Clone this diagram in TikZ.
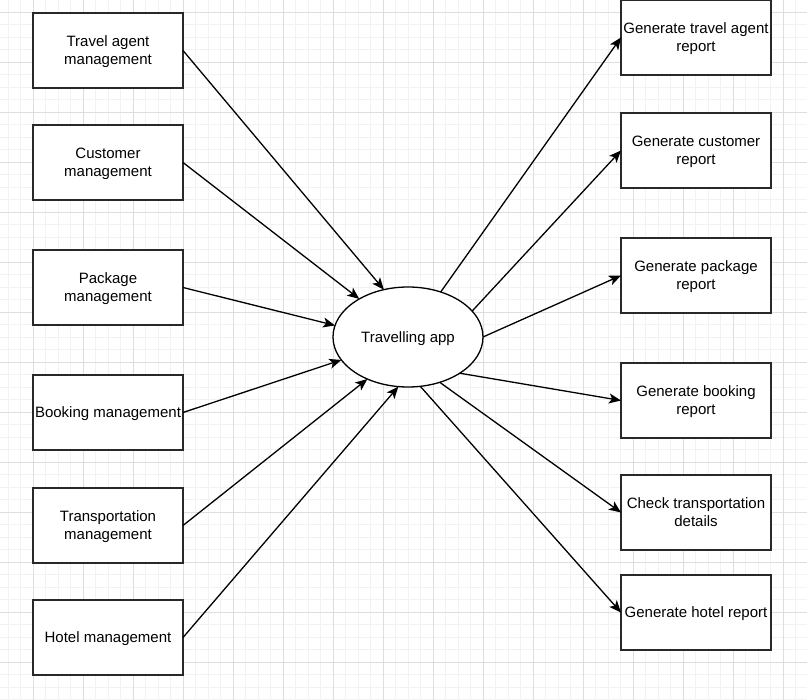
\documentclass[tikz,border=0pt]{standalone}
\usepackage{fontspec}
\setmainfont{Liberation Sans}
\usetikzlibrary{shapes.geometric,arrows.meta}
\definecolor{gridminor}{RGB}{242,242,242}
\definecolor{gridmajor}{RGB}{222,222,222}
\definecolor{edge}{RGB}{40,40,40}
\tikzset{
  box/.style={draw=edge, line width=1.3pt, fill=white, rectangle, minimum width=150pt, minimum height=75pt, inner sep=1pt, outer sep=0pt, align=center, text depth=0pt, font=\fontsize{15}{18}\selectfont},
  appnode/.style={draw=black, line width=1.3pt, fill=white, ellipse, minimum width=150pt, minimum height=100pt, inner sep=0pt, outer sep=0pt, text depth=0pt, font=\fontsize{15}{18}\selectfont},
  conn/.style={draw=black, line width=1.3pt, -{Stealth[length=12pt,width=10pt,inset=3pt]}},
}
\begin{document}
\begin{tikzpicture}[x=1pt,y=-1pt]
\useasboundingbox (0,0) rectangle (807,700);
\fill[white] (0,0) rectangle (807,700);
% grid
\foreach \i in {0,...,64} {\draw[gridminor, line width=0.8pt] (8+12.5*\i,0) -- (8+12.5*\i,700);}
\foreach \i in {-1,...,56} {\draw[gridminor, line width=0.8pt] (0,12+12.5*\i) -- (807,12+12.5*\i);}
\foreach \i in {0,...,16} {\draw[gridmajor, line width=0.9pt] (33+50*\i,0) -- (33+50*\i,700);}
\foreach \i in {0,...,14} {\draw[gridmajor, line width=0.9pt] (0,12+50*\i) -- (807,12+50*\i);}
% left boxes
\node[box] (ta) at (108,50.5) {Travel agent\\management};
\node[box] (cu) at (108,162.5) {Customer\\management};
\node[box] (pa) at (108,287.5) {Package\\management};
\node[box] (bo) at (108,412.5) {Booking management};
\node[box] (tr) at (108,525.5) {Transportation\\management};
\node[box] (ho) at (108,637.5) {Hotel management};
% right boxes
\node[box] (rta) at (696,37.5) {Generate travel agent\\report};
\node[box] (rcu) at (696,150.5) {Generate customer\\report};
\node[box] (rpa) at (696,275.5) {Generate package\\report};
\node[box] (rbo) at (696,400.5) {Generate booking\\report};
\node[box] (rtr) at (696,512.5) {Check transportation\\details};
\node[box] (rho) at (696,612.5) {Generate hotel report};
% center
\node[appnode] (app) at (408,337) {Travelling app};
% incoming
\draw[conn] (ta.east) -- (app.117);
\draw[conn] (cu.east) -- (app.142);
\draw[conn] (pa.east) -- (app.171);
\draw[conn] (bo.east) -- (app.199);
\draw[conn] (tr.east) -- (app.226);
\draw[conn] (ho.east) -- (app.259);
% outgoing
\draw[conn] (app.54) -- (rta.west);
\draw[conn] (app.22) -- (rcu.west);
\draw[conn] (app.0) -- (rpa.west);
\draw[conn] (app.-35) -- (rbo.west);
\draw[conn] (app.-55) -- (rtr.west);
\draw[conn] (app.-76) -- (rho.west);
\end{tikzpicture}
\end{document}
